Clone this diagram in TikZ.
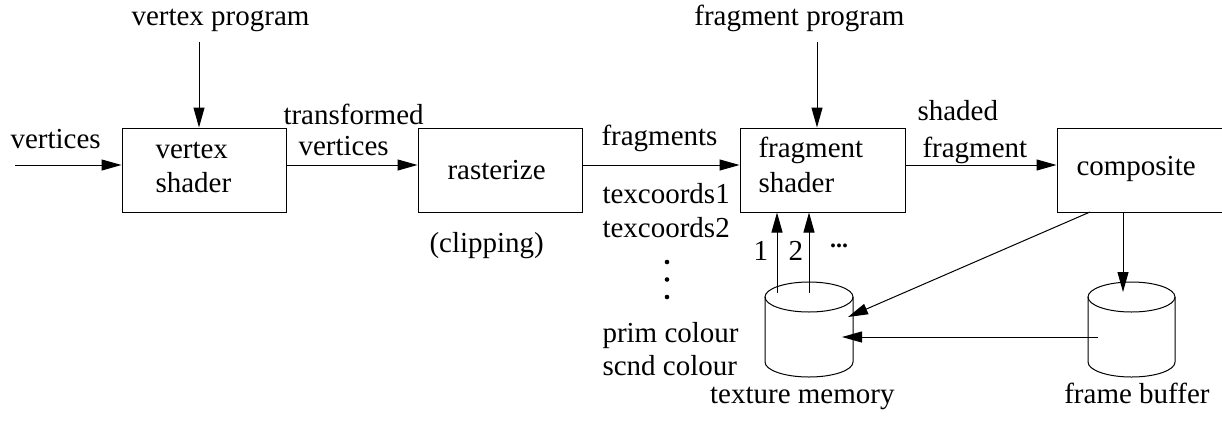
\documentclass[tikz,border=0pt]{standalone}
\usepackage{fontspec}
\setmainfont{Liberation Serif}
\usetikzlibrary{arrows.meta}
\begin{document}
\begin{tikzpicture}[x=1pt,y=-1pt,
  line width=1pt,
  font=\fontsize{29}{34}\selectfont,
  box/.style={draw, minimum height=84pt, inner sep=0pt},
  txt/.style={inner sep=0pt, anchor=base west},
  arr/.style={-{Triangle[length=20pt,width=11pt]}},
  cyl/.style={line width=1pt}]
\useasboundingbox (0,0) rectangle (1222,421);

% boxes
\node[box, minimum width=164pt] (vs) at (204,170) {};
\node[box, minimum width=164pt] (ras) at (500,170) {};
\node[box, minimum width=165pt] (fs) at (822.5,170) {};
\node[box, minimum width=170pt] (cs) at (1142,170) {};

% box texts
\node[txt] (vs1) at (155,158) {vertex};
\node[txt] (vs2) at (155,192) {shader};
\node[txt] (ras1) at (447,179) {rasterize};
\node[txt] (fs1) at (758,157) {fragment};
\node[txt] (fs2) at (758,192) {shader};
\node[txt] (cs1) at (1076,175) {composite};

% cylinders
\draw[cyl] (765,297) -- (765,362) arc[start angle=180, end angle=360, x radius=44pt, y radius=15pt] -- (853,297);
\draw[cyl] (809,297) ellipse [x radius=44pt, y radius=15pt];
\node[inner sep=0pt, minimum width=88pt, minimum height=95pt] (tm) at (809,329.5) {};
\draw[cyl] (1088,297) -- (1088,362) arc[start angle=180, end angle=360, x radius=43.5pt, y radius=15pt] -- (1175,297);
\draw[cyl] (1131.5,297) ellipse [x radius=43.5pt, y radius=15pt];
\node[inner sep=0pt, minimum width=87pt, minimum height=95pt] (fb) at (1131.5,329.5) {};

% labels
\node[txt] (vp) at (131,25) {vertex program};
\node[inner sep=0pt, anchor=base east] (fp) at (905,25) {fragment program};
\node[txt] (vin) at (10,148) {vertices};
\node[txt] (tv1) at (283,124) {transformed};
\node[txt] (tv2) at (298,155) {vertices};
\node[txt] (clip) at (429,252) {(clipping)};
\node[txt] (frg) at (601,145) {fragments};
\node[txt] (tc1) at (602,203) {texcoords1};
\node[txt] (tc2) at (602,237) {texcoords2};
\node[txt] (pc) at (602,342) {prim colour};
\node[txt] (sc) at (602,375) {scnd colour};
\fill (667,262) circle (2.3pt) (667,279.5) circle (2.3pt) (667,297) circle (2.3pt);
\node[txt] (sh1) at (917,120) {shaded};
\node[txt] (sh2) at (922,157) {fragment};
\node[txt] (n1) at (753,260) {1};
\node[txt] (n2) at (788,260) {2};
\node[inner sep=0pt, font=\fontsize{24}{24}\selectfont\bfseries] (n3) at (839,246) {...};
\node[inner sep=0pt, anchor=base east] (tml) at (895,403) {texture memory};
\node[inner sep=0pt, anchor=base east] (fbl) at (1210,403) {frame buffer};

% connectors
\coordinate (vpa) at (199,42);
\draw[arr] (vpa) -- (vpa |- vs.north);
\coordinate (fpa) at (817,42);
\draw[arr] (fpa) -- (fpa |- fs.north);
\coordinate (vina) at (15,165);
\draw[arr] (vina) -- (vina -| vs.west);
\draw[arr] ([yshift=5pt]vs.east) -- ([yshift=5pt]ras.west);
\draw[arr] ([yshift=5pt]ras.east) -- ([yshift=5pt]fs.west);
\draw[arr] ([yshift=5pt]fs.east) -- ([yshift=5pt]cs.west);
\coordinate (t1) at (777,293);
\coordinate (t2) at (809,293);
\draw[arr] (t1) -- (t1 |- fs.south);
\draw[arr] (t2) -- (t2 |- fs.south);
\coordinate (ca) at (1090,212);
\coordinate (tma) at (848,317);
\draw[arr] (ca) -- (tma);
\coordinate (cb) at (1123,212);
\coordinate (fbt) at (1123,292);
\draw[arr] (cb) -- (fbt);
\coordinate (fba) at (1098,337);
\coordinate (tmb) at (842,337);
\draw[arr] (fba) -- (tmb);
\end{tikzpicture}
\end{document}
